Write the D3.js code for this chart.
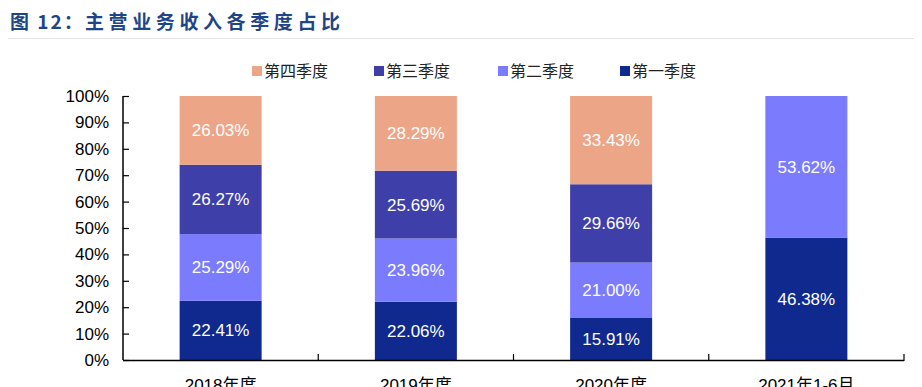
<!DOCTYPE html>
<html>
<head lang="zh">
  <title>主营业务收入各季度占比</title>
  <script src="https://d3js.org/d3.v7.min.js" charset="utf-8"></script>
  <style>
    body { margin: 0; background: #fff; }
  </style>
</head>
<body>
  <script>
    // data
    var categories = ["2018年度", "2019年度", "2020年度", "2021年1-6月"];
    var seriesNames = ["第一季度", "第二季度", "第三季度", "第四季度"];
    var q1 = [22.41, 22.06, 15.91, 46.38];
    var q2 = [25.29, 23.96, 21.00, 53.62];
    var q3 = [26.27, 25.69, 29.66, null];
    var q4 = [26.03, 28.29, 33.43, null];
    var yTicks = [0, 10, 20, 30, 40, 50, 60, 70, 80, 90, 100];
    var legendOrder = ["第四季度", "第三季度", "第二季度", "第一季度"];

    var colors = {
      "第一季度": "#10298E",
      "第二季度": "#7B7BFE",
      "第三季度": "#3F3FAA",
      "第四季度": "#EDA587"
    };

    var width = 922, height = 387;
    var svg = d3.select("body").append("svg")
      .attr("width", width)
      .attr("height", height);

    // title
    var title = svg.append("text")
      .attr("x", 10)
      .attr("y", 29)
      .attr("font-family", "'Noto Sans CJK SC', sans-serif")
      .attr("font-size", "19px")
      .attr("font-weight", "bold")
      .attr("fill", "#1D4587");
    title.append("tspan").attr("letter-spacing", "2px").text("图 12：");
    title.append("tspan").attr("x", 85).attr("letter-spacing", "4.6px").text("主营业务收入各季度占比");

    svg.append("line")
      .attr("x1", 8).attr("x2", 914)
      .attr("y1", 38.5).attr("y2", 38.5)
      .attr("stroke", "#e4e4e4")
      .attr("stroke-width", 1);

    // scales
    var x = d3.scaleBand()
      .domain(categories)
      .range([123, 904])
      .paddingInner(0.58)
      .paddingOuter(0.29);

    var y = d3.scaleLinear()
      .domain([0, 100])
      .range([360, 96]);

    var table = categories.map(function(c, i) {
      return { cat: c, "第一季度": q1[i], "第二季度": q2[i], "第三季度": q3[i] || 0, "第四季度": q4[i] || 0 };
    });

    var stacked = d3.stack().keys(seriesNames)(table);

    var g = svg.append("g");
    stacked.forEach(function(layer) {
      var name = layer.key;
      layer.forEach(function(d, i) {
        if (!d.data[name]) return;
        g.append("rect")
          .attr("x", x(categories[i]))
          .attr("y", y(d[1]))
          .attr("width", x.bandwidth())
          .attr("height", y(d[0]) - y(d[1]))
          .attr("fill", colors[name]);
        g.append("text")
          .attr("x", x(categories[i]) + x.bandwidth() / 2)
          .attr("y", y((d[0] + d[1]) / 2) + 6)
          .attr("text-anchor", "middle")
          .attr("font-family", "'Liberation Sans', Arial, sans-serif")
          .attr("font-size", "17px")
          .attr("fill", "#fff")
          .text(d.data[name].toFixed(2) + "%");
      });
    });

    // y axis
    var yAxis = svg.append("g")
      .attr("transform", "translate(123,0)")
      .call(d3.axisLeft(y)
        .tickValues(yTicks)
        .tickSize(6)
        .tickPadding(8)
        .tickFormat(function(d) { return d + "%"; }));
    yAxis.select(".domain").attr("stroke", "#000").attr("stroke-width", 1.5)
      .attr("d", "M0,96V360");
    yAxis.selectAll(".tick line").attr("x2", 6).attr("stroke", "#000").attr("stroke-width", 1.2);
    yAxis.selectAll("text")
      .attr("font-family", "'Liberation Sans', Arial, sans-serif")
      .attr("font-size", "17px")
      .attr("fill", "#000");

    // x axis
    var xAxisG = svg.append("g");
    xAxisG.append("line")
      .attr("x1", 123).attr("x2", 904)
      .attr("y1", 360.5).attr("y2", 360.5)
      .attr("stroke", "#000")
      .attr("stroke-width", 1.5);
    categories.forEach(function(c, i) {
      var bx = 123 + (i + 1) * (781 / categories.length);
      xAxisG.append("line")
        .attr("x1", bx).attr("x2", bx)
        .attr("y1", 354).attr("y2", 361)
        .attr("stroke", "#000")
        .attr("stroke-width", 1.2);
      xAxisG.append("text")
        .attr("x", x(c) + x.bandwidth() / 2)
        .attr("y", 391)
        .attr("text-anchor", "middle")
        .attr("font-family", "'Liberation Sans', 'Noto Sans CJK SC', sans-serif")
        .attr("font-size", "17px")
        .attr("fill", "#000")
        .text(c);
    });

    // legend
    var legendX = [252, 374, 498, 620];
    var legend = svg.append("g");
    legendOrder.forEach(function(name, i) {
      legend.append("rect")
        .attr("x", legendX[i])
        .attr("y", 66)
        .attr("width", 10)
        .attr("height", 10)
        .attr("fill", colors[name]);
      legend.append("text")
        .attr("x", legendX[i] + 12)
        .attr("y", 77)
        .attr("font-family", "'Noto Sans CJK SC', sans-serif")
        .attr("font-size", "16px")
        .attr("fill", "#222")
        .text(name);
    });
  </script>
</body>
</html>
